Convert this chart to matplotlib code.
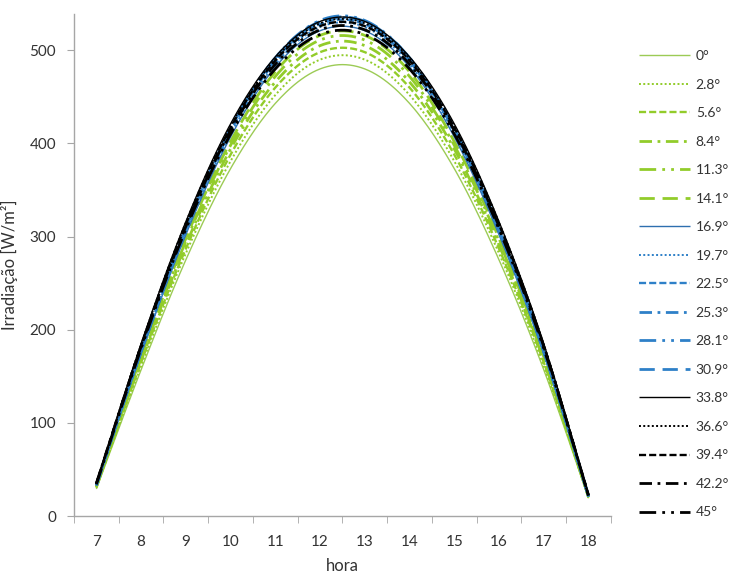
import numpy as np
import matplotlib.pyplot as plt

# --- dados (irradiação horária por inclinação) ---
horas = [7, 8, 9, 10, 11, 12, 13, 14, 15, 16, 17, 18]

inclinacoes = ['0°', '2.8°', '5.6°', '8.4°', '11.3°', '14.1°', '16.9°', '19.7°', '22.5°',
               '25.3°', '28.1°', '30.9°', '33.8°', '36.6°', '39.4°', '42.2°', '45°']

irr_0 = [29, 157, 275, 373, 443, 480, 480, 443, 373, 275, 157, 19]
irr_2_8 = [30, 161, 282, 381, 452, 490, 490, 452, 381, 282, 161, 20]
irr_5_6 = [31, 165, 287, 388, 460, 498, 498, 460, 388, 287, 165, 20]
irr_8_4 = [31, 167, 291, 394, 466, 505, 505, 466, 394, 291, 167, 20]
irr_11_3 = [32, 169, 295, 398, 472, 511, 511, 472, 398, 295, 169, 21]
irr_14_1 = [32, 171, 298, 402, 477, 516, 516, 477, 402, 298, 171, 21]
irr_16_9 = [33, 174, 302, 407, 482, 521, 521, 482, 407, 302, 174, 21]
irr_19_7 = [33, 175, 304, 410, 485, 525, 525, 485, 410, 304, 175, 21]
irr_22_5 = [33, 176, 306, 413, 488, 528, 528, 488, 413, 306, 176, 21]
irr_25_3 = [33, 177, 307, 414, 490, 530, 530, 490, 414, 307, 177, 21]
irr_28_1 = [33, 177, 308, 416, 492, 532, 532, 492, 416, 308, 177, 21]
irr_30_9 = [33, 178, 309, 416, 492, 531, 531, 492, 416, 309, 178, 22]
irr_33_8 = [35, 185, 316, 421, 493, 531, 531, 493, 421, 316, 185, 23]
irr_36_6 = [35, 184, 315, 419, 491, 529, 529, 491, 419, 315, 184, 22]
irr_39_4 = [35, 183, 313, 417, 489, 526, 526, 489, 417, 313, 183, 22]
irr_42_2 = [35, 182, 311, 414, 485, 522, 522, 485, 414, 311, 182, 22]
irr_45 = [34, 180, 308, 410, 480, 517, 517, 480, 410, 308, 180, 22]

series = [irr_0, irr_2_8, irr_5_6, irr_8_4, irr_11_3, irr_14_1, irr_16_9, irr_19_7, irr_22_5,
          irr_25_3, irr_28_1, irr_30_9, irr_33_8, irr_36_6, irr_39_4, irr_42_2, irr_45]

# estilos tipo Excel: sólido, pontilhado, tracejado, traço-ponto, traço-ponto-ponto, traço longo
estilos = [
    ('-', 1.0),
    ((0, (1, 1.2)), 1.4),
    ((0, (3, 1.3)), 1.7),
    ((0, (4.5, 2, 1, 2)), 2.0),
    ((0, (6, 2.2, 1, 2.2, 1, 2.2)), 2.0),
    ((0, (5.5, 2.8)), 2.0),
]
cores = ['#92CC2A'] * 6 + ['#2E80C8'] * 6 + ['#000000'] * 5
cores[0] = '#9CCB55'
cores[6] = '#2E6FAF'


def suaviza(x, y, n=24):
    # spline Catmull-Rom, como a "linha suavizada" do Excel
    x = np.asarray(x, float)
    y = np.asarray(y, float)
    px = np.concatenate([[x[0]], x, [x[-1]]])
    py = np.concatenate([[y[0]], y, [y[-1]]])
    xs, ys = [], []
    t = np.linspace(0, 1, n, endpoint=False)
    for i in range(1, len(px) - 2):
        for p, out in ((px, xs), (py, ys)):
            p0, p1, p2, p3 = p[i - 1], p[i], p[i + 1], p[i + 2]
            out.append(0.5 * (2 * p1 + (-p0 + p2) * t + (2 * p0 - 5 * p1 + 4 * p2 - p3) * t ** 2
                              + (-p0 + 3 * p1 - 3 * p2 + p3) * t ** 3))
    xs.append([x[-1]])
    ys.append([y[-1]])
    return np.concatenate(xs), np.concatenate(ys)


plt.rcParams['font.family'] = ['Lato', 'DejaVu Sans']

fig = plt.figure(figsize=(7.36, 5.75), dpi=100)
ax = fig.add_axes([0.1005, 0.1026, 0.7295, 0.8731])

pos = np.arange(len(horas))
for i, (vals, nome) in enumerate(zip(series, inclinacoes)):
    ls, lw = estilos[i % 6]
    xs, ys = suaviza(pos, vals)
    ax.plot(xs, ys, color=cores[i], linestyle=ls, linewidth=lw, label=nome,
            solid_capstyle='butt', dash_capstyle='butt')

ax.set_xlim(-0.5, len(horas) - 0.5)
ax.set_ylim(0, 539)
ax.set_xticks(pos)
ax.set_xticklabels([str(h) for h in horas])
ax.set_xticks(np.arange(-0.5, len(horas)), minor=True)
ax.tick_params(axis='x', which='major', length=0, pad=14, labelsize=11, labelcolor='#333333')
ax.tick_params(axis='x', which='minor', length=5, color='#A6A6A6', direction='out')
ax.set_yticks(range(0, 501, 100))
ax.tick_params(axis='y', length=5, color='#A6A6A6', direction='out', pad=8,
               labelsize=11, labelcolor='#333333')

for s in ['top', 'right']:
    ax.spines[s].set_visible(False)
for s in ['left', 'bottom']:
    ax.spines[s].set_color('#A6A6A6')
    ax.spines[s].set_linewidth(1.0)

ax.set_xlabel('hora', fontsize=12, color='#333333', labelpad=6)
ax.set_ylabel('Irradiação [W/m²]', fontsize=12, color='#333333', labelpad=8)

fig.legend(loc='upper left', bbox_to_anchor=(0.868, 0.913), frameon=False,
           fontsize=10, labelcolor='#333333', handlelength=3.7, handletextpad=0.4,
           labelspacing=1.19, borderpad=0, borderaxespad=0)

fig.savefig('out.png', dpi=100)
